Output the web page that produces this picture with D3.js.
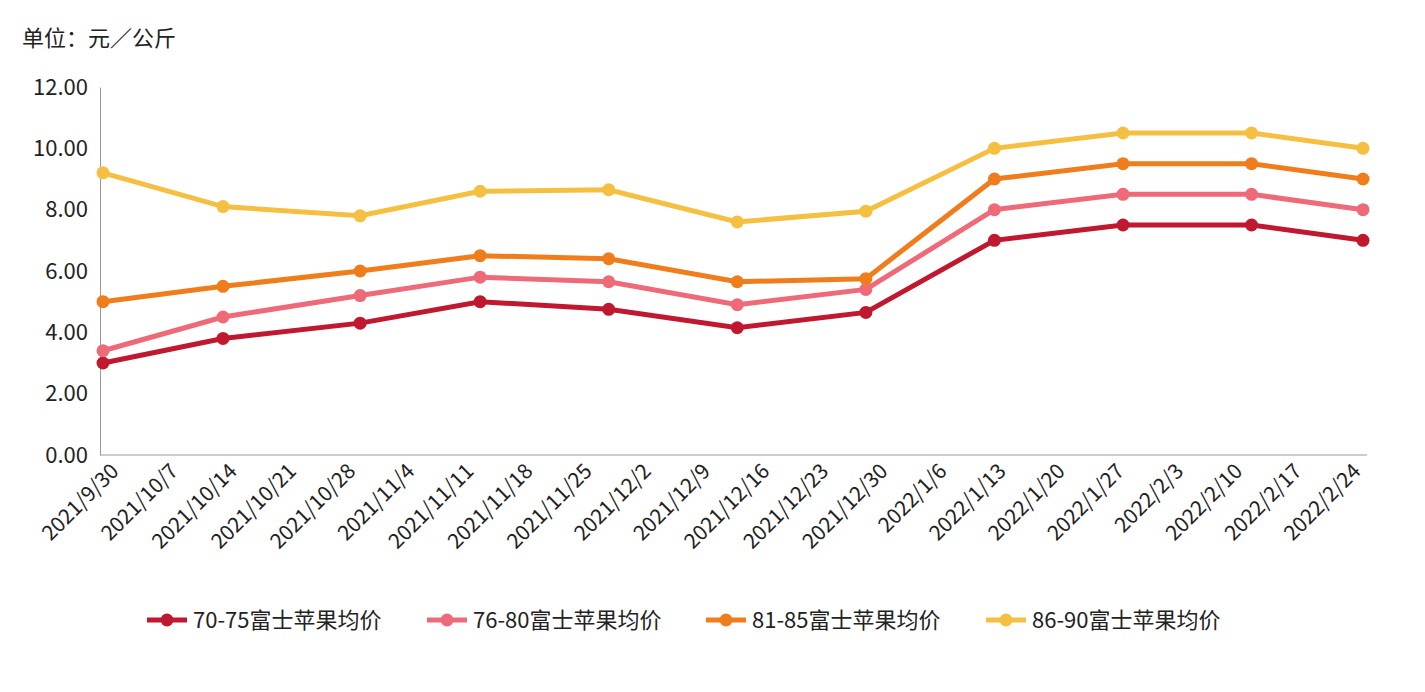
<!DOCTYPE html>
<html><head><meta charset="utf-8">
<script src="https://cdn.jsdelivr.net/npm/d3@7"></script>
<style>body{margin:0;background:#fff}text{font-family:"Noto Sans CJK SC","Noto Sans",sans-serif;fill:#222}</style>
</head><body>
<svg width="1425" height="692"></svg>
<script>
var dates = ["2021-09-30","2021-10-14","2021-10-30","2021-11-13","2021-11-28","2021-12-13","2021-12-28","2022-01-12","2022-01-27","2022-02-11","2022-02-24"]
var tickLabels = ["2021/9/30","2021/10/7","2021/10/14","2021/10/21","2021/10/28","2021/11/4","2021/11/11","2021/11/18","2021/11/25","2021/12/2","2021/12/9","2021/12/16","2021/12/23","2021/12/30","2022/1/6","2022/1/13","2022/1/20","2022/1/27","2022/2/3","2022/2/10","2022/2/17","2022/2/24"]
var yTicks = [0, 2, 4, 6, 8, 10, 12]
var names = ["70-75富士苹果均价", "76-80富士苹果均价", "81-85富士苹果均价", "86-90富士苹果均价"]
var s7075 = [3.0, 3.8, 4.3, 5.0, 4.75, 4.15, 4.65, 7.0, 7.5, 7.5, 7.0]
var s7680 = [3.4, 4.5, 5.2, 5.8, 5.65, 4.9, 5.4, 8.0, 8.5, 8.5, 8.0]
var s8185 = [5.0, 5.5, 6.0, 6.5, 6.4, 5.65, 5.75, 9.0, 9.5, 9.5, 9.0]
var s8690 = [9.2, 8.1, 7.8, 8.6, 8.65, 7.6, 7.95, 10.0, 10.5, 10.5, 10.0]
var colors = ["#c0182f", "#ef6a78", "#f07d1c", "#f5c042"]

var parse = d3.timeParse("%Y-%m-%d")
var svg = d3.select("svg")

var x = d3.scaleTime().domain([parse("2021-09-30"), parse("2022-02-24")]).range([103, 1363])
var xt = d3.scalePoint().domain(tickLabels).range([105, 1347])
var y = d3.scaleLinear().domain([0, 12]).range([455, 87])

svg.append("text").attr("x", 22).attr("y", 46).style("font-size", "22px").text("单位：元／公斤")

// y axis
var ya = svg.append("g").attr("transform", "translate(100,0)")
    .call(d3.axisLeft(y).tickValues(yTicks).tickFormat(d3.format(".2f")).tickSize(0).tickPadding(12))
ya.select(".domain").attr("stroke", "#999")
ya.selectAll("text").style("font-size", "22px").style("fill", "#222")

// x axis
var xa = svg.append("g").attr("transform", "translate(0,455)")
    .call(d3.axisBottom(xt).tickSize(0).tickPadding(8))
xa.select(".domain").attr("stroke", "#999").attr("d", "M100,0H1367")
xa.selectAll("text").style("font-size", "21px").style("fill", "#222")
    .attr("text-anchor", "end").attr("dx", "-0.1em").attr("dy", "0.7em")
    .attr("transform", "rotate(-45)")

var series = [s7075, s7680, s8185, s8690]
var line = d3.line().x((d, i) => x(parse(dates[i]))).y(d => y(d))
series.forEach((s, k) => {
    svg.append("path").datum(s).attr("d", line)
        .style("fill", "none").style("stroke", colors[k]).style("stroke-width", 5)
    svg.append("g").selectAll("circle").data(s).enter().append("circle")
        .attr("cx", (d, i) => x(parse(dates[i]))).attr("cy", d => y(d))
        .attr("r", 6.5).style("fill", colors[k])
})

// legend
var lx = [147, 427, 706, 986]
names.forEach((n, k) => {
    var g = svg.append("g").attr("transform", "translate(" + lx[k] + ",620)")
    g.append("line").attr("x1", 0).attr("x2", 40).attr("stroke", colors[k]).attr("stroke-width", 5)
    g.append("circle").attr("cx", 20).attr("r", 6.5).style("fill", colors[k])
    g.append("text").attr("x", 46).attr("y", 8).style("font-size", "22px").text(n)
})
</script>
</body></html>
